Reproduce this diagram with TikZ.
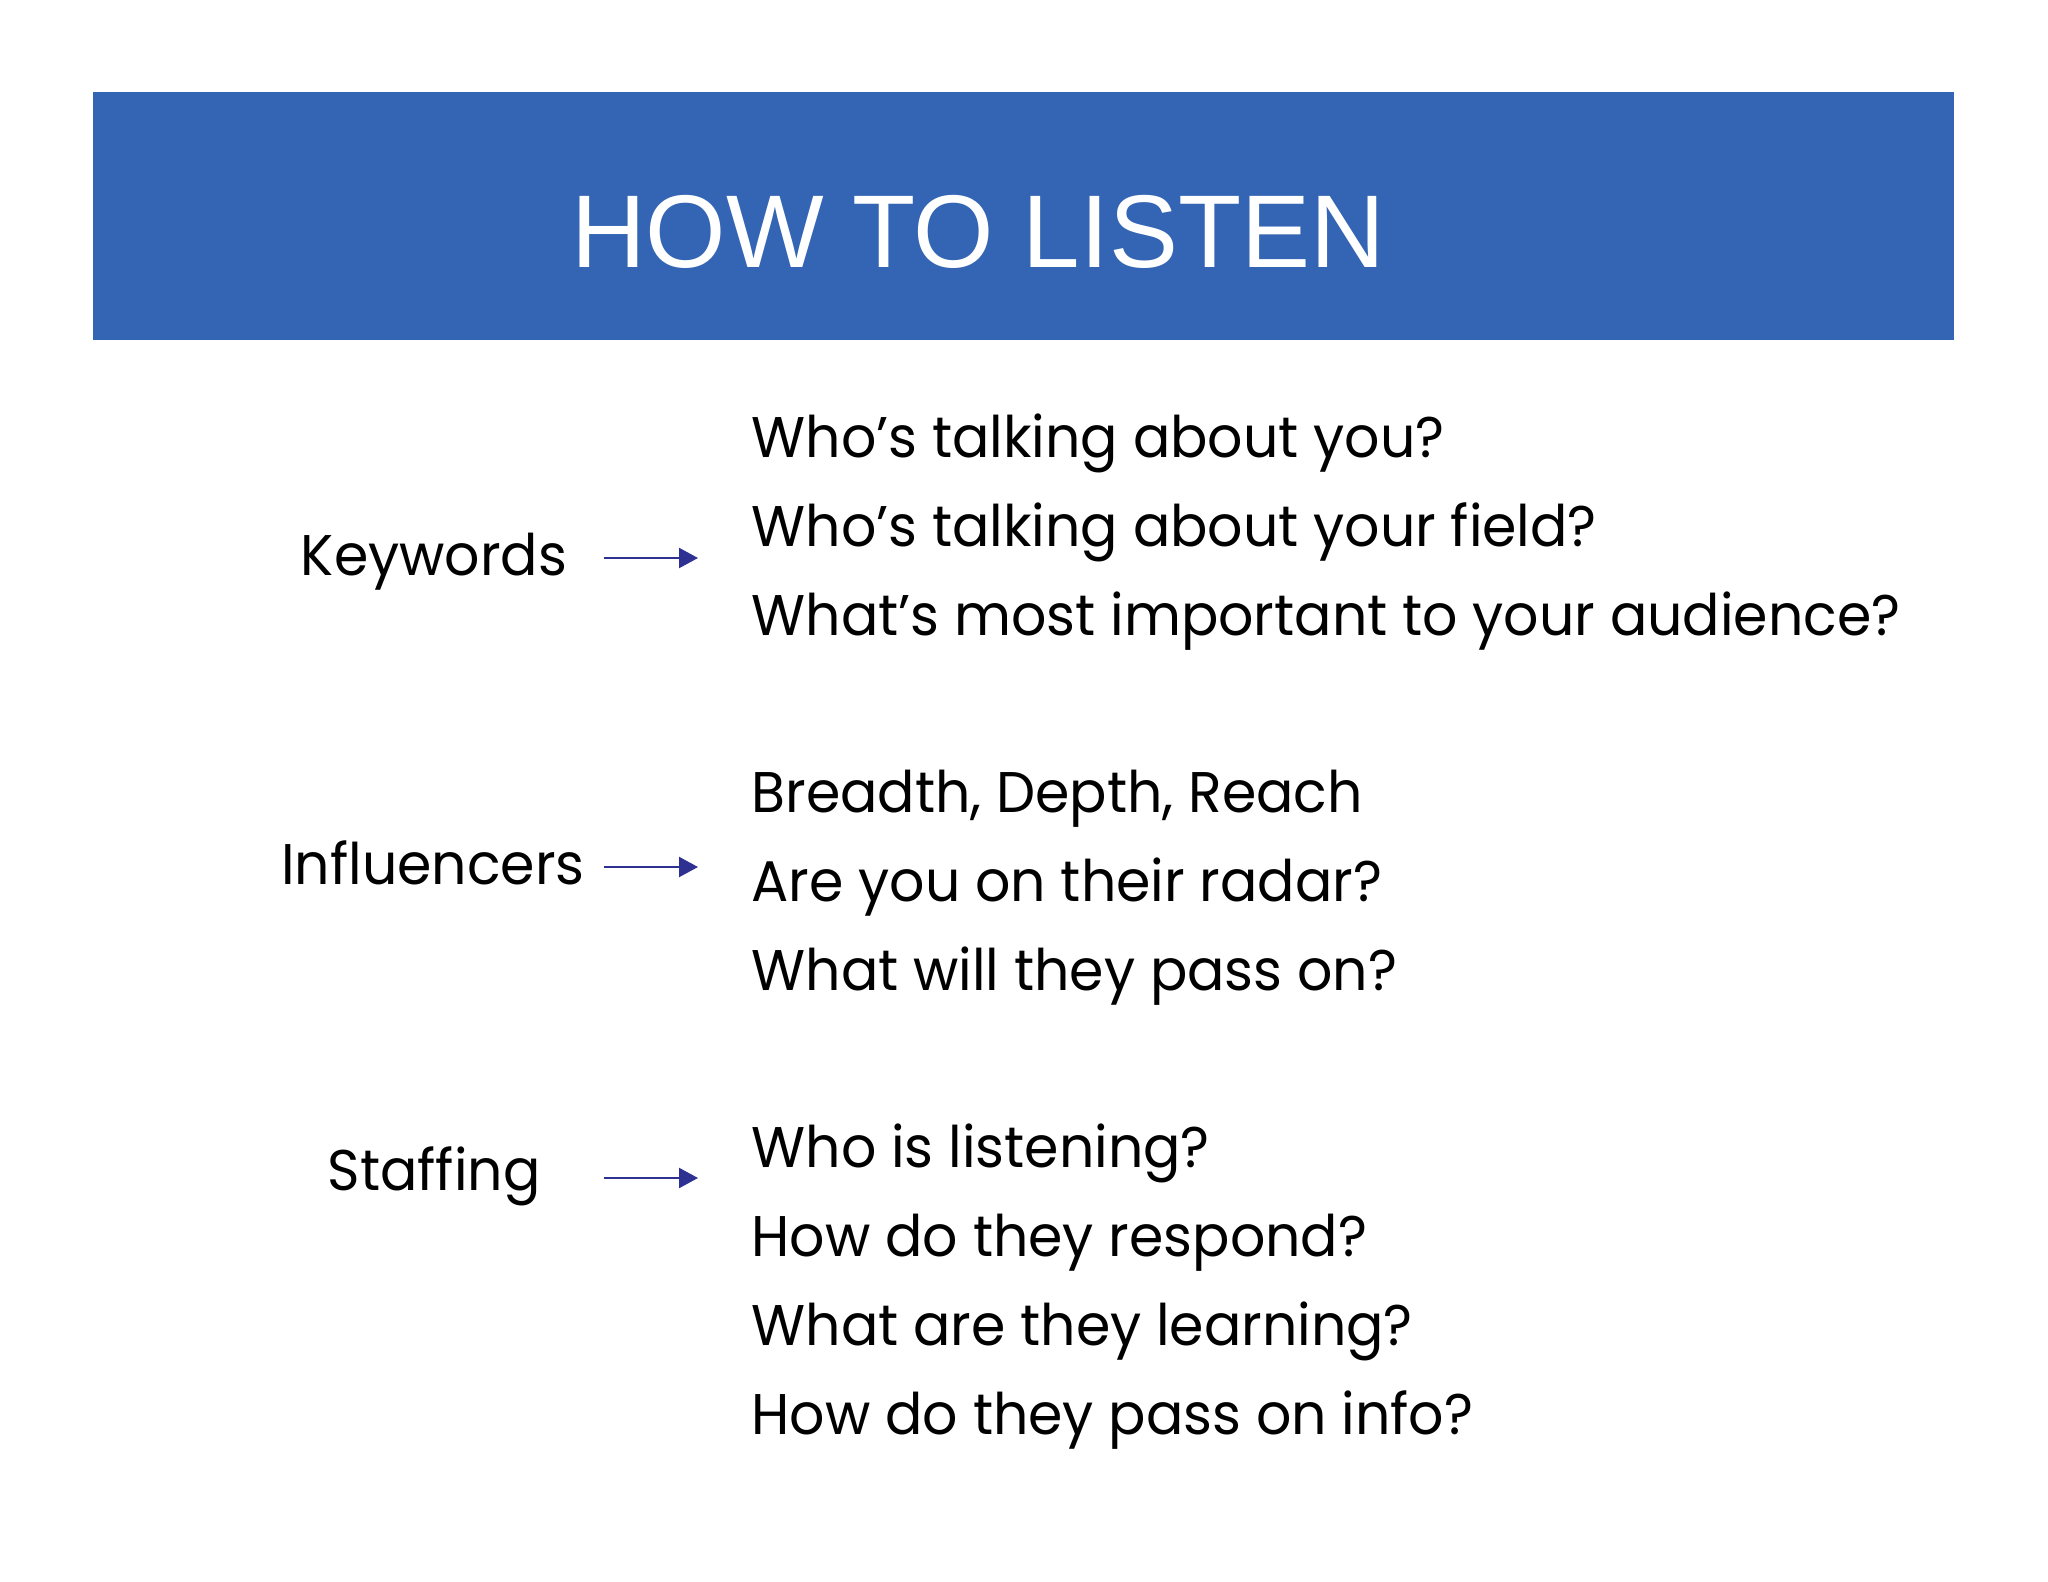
\documentclass[tikz,border=0pt]{standalone}
\usepackage{fontspec}
\setmainfont[FakeStretch=0.965]{Poppins}
\newfontfamily\headfont{Liberation Sans}
\usetikzlibrary{arrows.meta,positioning}
\definecolor{bannerblue}{RGB}{52,101,180}
\definecolor{arrowblue}{RGB}{46,49,146}

\begin{document}
\begin{tikzpicture}[x=0.01cm,y=-0.01cm,
    topic/.style={font=\fontsize{16.3}{20}\selectfont, inner sep=0pt, anchor=base},
    answer/.style={font=\fontsize{16.3}{20}\selectfont, inner sep=0pt, anchor=base west},
    pointer/.style={arrowblue, line width=0.6pt, -{Triangle[length=5.4pt,width=5.7pt]}}]
    \useasboundingbox (0,0) rectangle (2048,1582);

    % Banner
    \fill[bannerblue] (93,92) rectangle (1954,340);
    \node[font=\headfont\fontsize{29.4}{36}\selectfont, text=white, inner sep=0pt, anchor=base] (title) at (978,268) {HOW TO LISTEN};

    % Topics
    \node[topic] (keywords) at (434,575) {Keywords};
    \node[topic] (influencers) at (433,884) {Influencers};
    \node[topic] (staffing) at (434,1190) {Staffing};

    % Arrows
    \foreach \name/\y in {kw/558, inf/867, stf/1178} {
        \coordinate (\name tail) at (604,\y);
        \coordinate (\name tip) at (698,\y);
        \draw[pointer] (\name tail) -- (\name tip);
    }

    % Questions
    \foreach \txt [count=\i] in {Who’s talking about you?, Who’s talking about your field?, What’s most important to your audience?} {
        \node[answer] (kwq\i) at (751,368+89*\i) {\txt};
    }
    \foreach \txt [count=\i] in {{Breadth, Depth, Reach}, Are you on their radar?, What will they pass on?} {
        \node[answer] (infq\i) at (751,723+89*\i) {\txt};
    }
    \foreach \txt [count=\i] in {Who is listening?, How do they respond?, What are they learning?, How do they pass on info?} {
        \node[answer] (stfq\i) at (751,1078+89*\i) {\txt};
    }
\end{tikzpicture}
\end{document}
